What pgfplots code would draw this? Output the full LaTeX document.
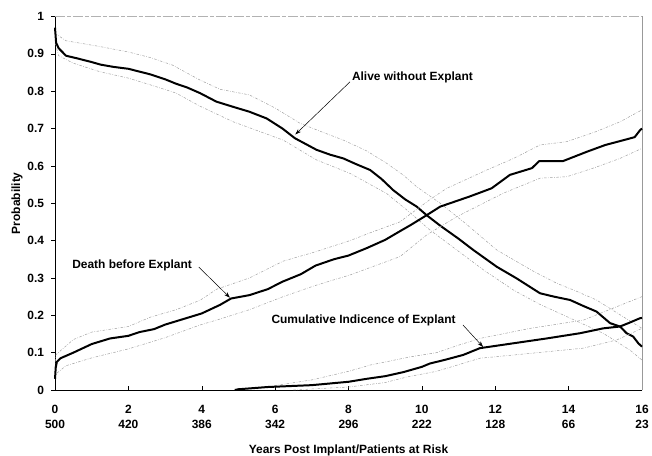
\documentclass[border=0pt]{standalone}
\usepackage{pgfplots}
\pgfplotsset{compat=1.18}
\usepackage{fontspec}
\setmainfont{Liberation Sans}
\usetikzlibrary{arrows.meta}
\begin{document}
\begin{tikzpicture}
\pgfplotsset{
  main/.style={black, line width=2pt, line join=round},
  band/.style={gray!75, line width=0.5pt, dash pattern=on 2.5pt off 1.5pt on 0.6pt off 1.5pt},
}
\begin{axis}[
  at={(55bp,66bp)}, anchor=south west,
  scale only axis, width=587bp, height=373.5bp,
  xmin=0, xmax=16, ymin=0, ymax=1,
  axis x line=bottom, axis y line=left,
  axis line style={-, line width=0.9pt, black},
  xtick={0,2,4,6,8,10,12,14,16},
  xticklabels={{0\\500},{2\\420},{4\\386},{6\\342},{8\\296},{10\\222},{12\\128},{14\\66},{16\\23}},
  ytick={0,0.1,0.2,0.3,0.4,0.5,0.6,0.7,0.8,0.9,1},
  yticklabels={0,0.1,0.2,0.3,0.4,0.5,0.6,0.7,0.8,0.9,1},
  tick align=outside, major tick length=3.5bp,
  tick style={black, line width=0.5pt},
  xtick style={yshift=3.5bp},
  tick label style={font=\fontsize{12}{15}\selectfont\bfseries},
  x tick label style={align=center, yshift=-8bp},
  y tick label style={xshift=-4bp},
  xlabel={Years Post Implant/Patients at Risk},
  ylabel={Probability},
  label style={font=\fontsize{12}{15}\selectfont\bfseries},
  xlabel style={at={(axis description cs:0.5,0)}, anchor=base, yshift=-63bp},
  ylabel style={at={(axis description cs:0,0.5)}, anchor=center, yshift=38bp},
  clip=false,
]
% frame top and right
\draw[gray!60, line width=0.8pt, dash pattern=on 10pt off 2pt on 4pt off 2pt] (rel axis cs:0,1) -- (rel axis cs:1,1);
\draw[gray!80, line width=0.8pt] (rel axis cs:1,0) -- (rel axis cs:1,1);

% Alive without explant
\addplot[band] coordinates {(0,0.955) (0.3,0.935) (1.2,0.92) (2.0,0.905) (2.6,0.89) (3.2,0.87) (3.95,0.83) (4.5,0.805) (5.3,0.79) (6.0,0.755) (6.68,0.714) (7.3,0.69) (7.86,0.669) (8.5,0.64) (9.04,0.607) (9.5,0.575) (9.86,0.544) (10.5,0.50) (11.2,0.445) (12.04,0.375) (13.0,0.32) (13.67,0.286) (14.2,0.265) (14.76,0.241) (15.49,0.196) (16,0.165)};
\addplot[band] coordinates {(0,0.93) (0.1,0.895) (0.5,0.875) (1.23,0.852) (2.0,0.835) (2.6,0.817) (3.3,0.795) (3.95,0.76) (4.86,0.718) (5.5,0.695) (6.22,0.669) (7.13,0.616) (8.04,0.58) (9.04,0.526) (9.59,0.482) (10.2,0.43) (10.95,0.375) (11.7,0.32) (12.49,0.268) (13.2,0.23) (13.85,0.201) (14.94,0.152) (15.67,0.107) (16,0.08)};
\addplot[main] coordinates {(0,0.97) (0.03,0.93) (0.1,0.915) (0.3,0.895) (0.6,0.888) (1.0,0.878) (1.25,0.871) (1.6,0.865) (2.0,0.86) (2.4,0.85) (2.6,0.845) (3.0,0.832) (3.3,0.82) (3.6,0.81) (3.95,0.795) (4.4,0.772) (4.86,0.758) (5.3,0.745) (5.77,0.727) (6.2,0.70) (6.54,0.674) (7.13,0.643) (7.5,0.63) (7.86,0.62) (8.2,0.605) (8.59,0.589) (8.9,0.565) (9.22,0.535) (9.55,0.51) (9.86,0.491) (10.13,0.468) (10.5,0.44) (11.0,0.405) (11.4,0.375) (12.04,0.33) (12.58,0.299) (13.22,0.259) (13.6,0.25) (14.04,0.241) (14.4,0.225) (14.76,0.21) (15.13,0.179) (15.4,0.17) (15.58,0.152) (15.76,0.143) (15.9,0.125) (16,0.116)};

% Death before explant
\addplot[band] coordinates {(0,0.06) (0.02,0.094) (0.5,0.135) (1.0,0.155) (2.0,0.17) (2.6,0.195) (3.3,0.215) (3.95,0.24) (4.41,0.27) (5.3,0.30) (6.22,0.345) (7.1,0.37) (8.04,0.40) (8.7,0.425) (9.4,0.45) (10.22,0.51) (10.68,0.54) (11.77,0.589) (12.5,0.62) (13.22,0.656) (13.95,0.665) (14.7,0.69) (15.4,0.718) (16,0.75)};
\addplot[band] coordinates {(0,0.03) (0.05,0.045) (0.3,0.065) (1.0,0.086) (2.0,0.11) (3.0,0.14) (3.95,0.174) (4.5,0.19) (5.3,0.215) (6.22,0.25) (7.1,0.28) (8.04,0.308) (9.4,0.357) (10.13,0.415) (10.95,0.464) (12.22,0.527) (13.22,0.567) (13.95,0.571) (14.7,0.595) (15.4,0.62) (16,0.647)};
\addplot[main] coordinates {(0,0.03) (0.02,0.06) (0.05,0.075) (0.15,0.085) (0.5,0.10) (1.0,0.123) (1.5,0.138) (2.0,0.145) (2.3,0.155) (2.7,0.163) (3.0,0.175) (3.5,0.19) (4.0,0.205) (4.5,0.228) (4.8,0.245) (5.3,0.254) (5.8,0.27) (6.2,0.29) (6.7,0.31) (7.1,0.333) (7.6,0.35) (8.0,0.36) (8.5,0.38) (9.0,0.402) (9.4,0.425) (9.7,0.442) (10.13,0.468) (10.5,0.491) (11.3,0.518) (11.9,0.54) (12.4,0.576) (13.0,0.594) (13.2,0.613) (13.85,0.613) (14.5,0.638) (15.0,0.656) (15.5,0.669) (15.8,0.677) (15.95,0.696) (16,0.70)};

% Cumulative incidence of explant
\addplot[band] coordinates {(5.5,0.003) (6.0,0.012) (7.0,0.027) (8.0,0.05) (8.6,0.067) (9.7,0.089) (10.4,0.10) (11.0,0.12) (11.58,0.138) (12.95,0.165) (14.4,0.187) (15.31,0.223) (16,0.25)};
\addplot[band] coordinates {(6.5,0.0) (8.0,0.008) (9.0,0.02) (9.6,0.035) (10.4,0.05) (11.58,0.085) (12.95,0.098) (14.4,0.112) (15.31,0.134) (16,0.165)};
\addplot[main] coordinates {(4.9,0) (5.0,0.002) (5.8,0.008) (7.0,0.013) (8.0,0.022) (8.5,0.03) (9.0,0.037) (9.5,0.048) (10.0,0.062) (10.22,0.071) (10.6,0.08) (11.13,0.094) (11.58,0.112) (12.0,0.118) (12.49,0.125) (13.4,0.138) (14.31,0.152) (14.94,0.165) (15.4,0.17) (15.63,0.179) (15.94,0.192) (16,0.193)};

% annotations
\node[anchor=west, font=\fontsize{12}{15}\selectfont\bfseries, inner sep=0pt] at (axis cs:8.09,0.838) {Alive without Explant};
\draw[-{Stealth[length=6bp,width=4bp]}, line width=0.5pt] (axis cs:8.04,0.825) -- (axis cs:6.55,0.684);
\node[anchor=center, font=\fontsize{12}{15}\selectfont\bfseries, inner sep=0pt] at (axis cs:2.1,0.333) {Death before Explant};
\draw[-{Stealth[length=6bp,width=4bp]}, line width=0.5pt] (axis cs:3.92,0.329) -- (axis cs:4.77,0.247);
\node[anchor=center, font=\fontsize{12}{15}\selectfont\bfseries, inner sep=0pt] at (axis cs:8.41,0.186) {Cumulative Indicence of Explant};
\draw[-{Stealth[length=6bp,width=4bp]}, line width=0.5pt] (axis cs:11.12,0.174) -- (axis cs:11.67,0.115);
\end{axis}
\pgfresetboundingbox
\path (0,0) rectangle (652bp,456bp);
\end{tikzpicture}
\end{document}
